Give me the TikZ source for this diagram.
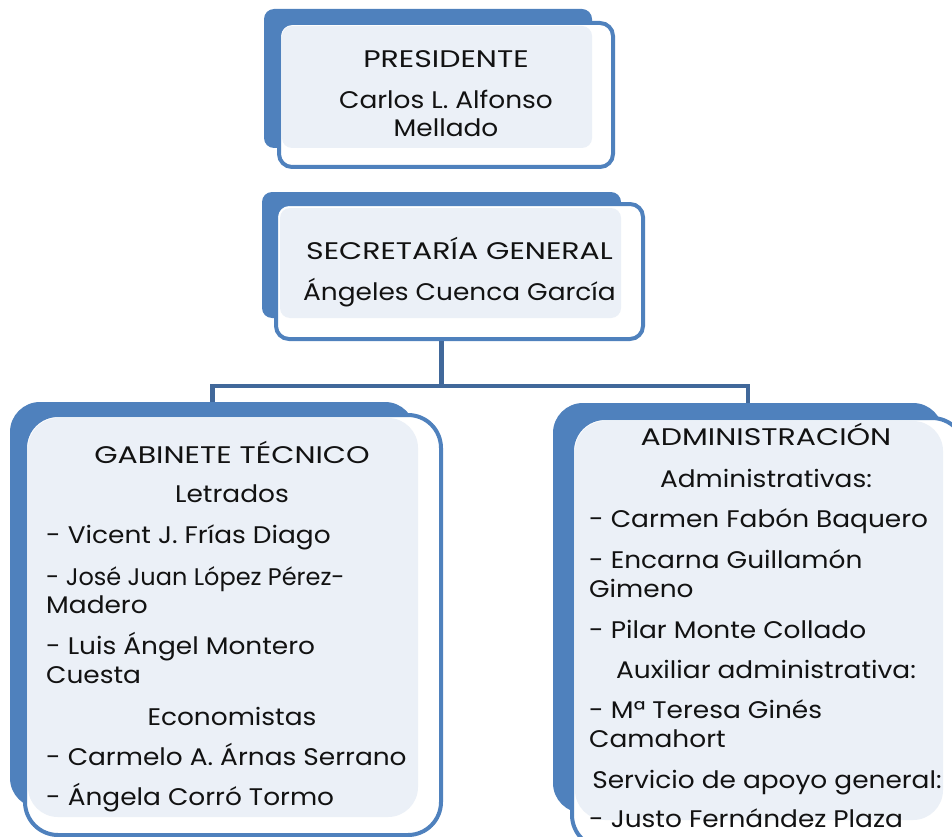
\documentclass[tikz,border=0pt]{standalone}
\usepackage{fontspec}
\setmainfont{Poppins}[FakeStretch=1.1]
\newfontfamily\capsfont{Poppins}[FakeStretch=1.25]
\newfontfamily\tightfont{Poppins}
\definecolor{boxblue}{HTML}{4F81BD}
\definecolor{boxlight}{HTML}{EBF0F7}
\definecolor{linkblue}{HTML}{41689A}
\definecolor{inkgray}{HTML}{121212}

\begin{document}
\begin{tikzpicture}[x=1pt,y=-1pt]
		\tikzset{backbox/.style={fill=boxblue, rounded corners=#1, inner sep=0pt},
			framebox/.style={draw=boxblue, fill=white, line width=4pt, rounded corners=#1, inner sep=0pt},
			lightbox/.style={fill=boxlight, rounded corners=#1, inner sep=0pt},
			link/.style={draw=linkblue, line width=4.5pt},
			hd/.style={anchor=base, inner sep=0pt, text=inkgray, font=\fontsize{24}{28}\selectfont},
			caphd/.style={hd, font=\fontsize{24}{28}\capsfont},
			it/.style={anchor=base west, inner sep=0pt, text=inkgray, font=\fontsize{24}{28}\selectfont},
			tightit/.style={it, font=\fontsize{24}{28}\tightfont}};
		\useasboundingbox (0,0) rectangle (952,837);
		\clip (0,0) rectangle (952,837);
		% presidente
		\node[backbox=10pt, minimum width=328, minimum height=139] (presB) at (428,78.5) {};
		\node[framebox=13pt, minimum width=334, minimum height=144] (presF) at (446,95) {};
		\node[lightbox=10pt, minimum width=310, minimum height=122] (presL) at (437,87) {};
		% secretaria
		\node[backbox=10pt, minimum width=359, minimum height=126] (secB) at (441.5,255) {};
		\node[framebox=13pt, minimum width=367, minimum height=135] (secF) at (459.5,271.5) {};
		\node[lightbox=10pt, minimum width=341, minimum height=110] (secL) at (450.5,263) {};
		% gabinete
		\node[backbox=30pt, minimum width=405, minimum height=406] (gabB) at (212.5,605) {};
		\node[framebox=33pt, minimum width=416, minimum height=420] (gabF) at (233,625) {};
		\node[lightbox=30pt, minimum width=390, minimum height=399] (gabL) at (223,617.5) {};
		% administracion
		\node[backbox=30pt, minimum width=390, minimum height=410] (admB) at (748,608) {};
		\node[framebox=33pt, minimum width=393, minimum height=430] (admF) at (768.5,633) {};
		\node[lightbox=30pt, minimum width=368, minimum height=399] (admL) at (759,620.5) {};
		% connectors
		\draw[link] (secF.south -| secB.south) -- ++(0,45) coordinate (fork);
		\draw[link] (gabB.north) |- (fork) -| (admB.north);
		% texts
		\node[caphd] (pres1) at (446,68) {PRESIDENTE};
		\node[hd] (pres2) at (446,109) {Carlos L. Alfonso};
		\node[hd] (pres3) at (446,137) {Mellado};
		\node[caphd] (sec1) at (459.5,259) {SECRETARÍA GENERAL};
		\node[hd] (sec2) at (459.5,300) {Ángeles Cuenca García};
		\foreach \s/\x/\y/\t [count=\i] in {caphd/232/463/GABINETE TÉCNICO, hd/232/502/Letrados,
			it/46/543/- Vicent J. Frías Diago, tightit/46/585/- José Juan López Pérez-, it/46/613/Madero,
			it/46/654/- Luis Ángel Montero, it/46/683/Cuesta, hd/232/725/Economistas,
			it/46/765/- Carmelo A. Árnas Serrano, it/46/805/- Ángela Corró Tormo}
			\node[\s] (gab\i) at (\x,\y) {\t};
		\foreach \s/\x/\y/\t [count=\i] in {caphd/766/445/ADMINISTRACIÓN, hd/766/487/Administrativas:,
			it/589/527/- Carmen Fabón Baquero, it/589/568/- Encarna Guillamón, it/589/597/Gimeno,
			it/589/638/- Pilar Monte Collado, hd/766/678/Auxiliar administrativa:,
			it/589/718/- Mª Teresa Ginés, it/589/747/Camahort, hd/767/788/Servicio de apoyo general:,
			it/589/827/- Justo Fernández Plaza}
			\node[\s] (adm\i) at (\x,\y) {\t};
	\end{tikzpicture}
\end{document}
